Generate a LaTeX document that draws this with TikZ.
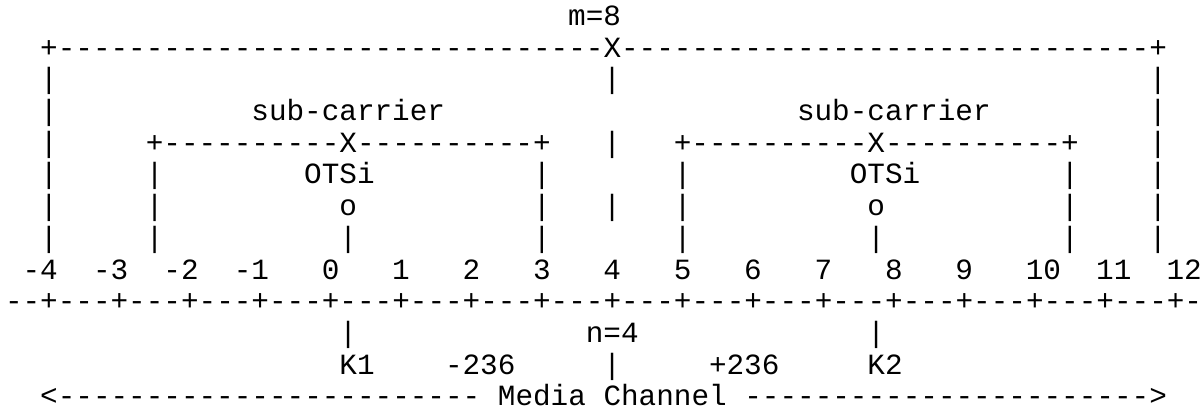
\documentclass[tikz,border=0pt]{standalone}
\usepackage{fontspec}
\setmonofont{Liberation Mono}
\usepackage{tikz}

\tikzset{
  chr/.style={font=\ttfamily\fontsize{14.67pt}{15.85pt}\selectfont,
              anchor=base west, inner sep=0pt, outer sep=0pt}
}

\begin{document}
\begin{tikzpicture}[x=8.8pt, y=-15.85pt]
    \useasboundingbox (-2.5pt,12.7pt) rectangle (598.5pt,-191.8pt);

    % Media channel frame (one column = one character)
    \node[chr] (mlab) at (32,0) {m=8};
    \node[chr] (mbar) at (2,1) {+-------------------------------X------------------------------+};
    \foreach \c in {2,34,65} \node[chr] (r2-\c) at (\c,2) {|};
    \foreach \c in {2,65}    \node[chr] (r3-\c) at (\c,3) {|};

    % Sub-carriers
    \node[chr] (sub1) at (14,3) {sub-carrier};
    \node[chr] (sub2) at (45,3) {sub-carrier};
    \node[chr] (sbar1) at (8,4)  {+----------X----------+};
    \node[chr] (sbar2) at (38,4) {+----------X----------+};
    \foreach \c in {2,34,65} \node[chr] (r4-\c) at (\c,4) {|};
    \foreach \c in {2,8,30,38,60,65} \node[chr] (r5-\c) at (\c,5) {|};
    \node[chr] (otsi1) at (17,5) {OTSi};
    \node[chr] (otsi2) at (48,5) {OTSi};
    \foreach \c in {2,8,30,34,38,60,65} \node[chr] (r6-\c) at (\c,6) {|};
    \node[chr] (o1) at (19,6) {o};
    \node[chr] (o2) at (49,6) {o};
    \foreach \c in {2,8,19,30,38,49,60,65} \node[chr] (r7-\c) at (\c,7) {|};

    % Frequency grid
    \foreach \c/\t in {1/-4,5/-3,9/-2,13/-1,18/0,22/1,26/2,30/3,34/4,38/5,
                       42/6,46/7,50/8,54/9,58/10,62/11,66/12}
        \node[chr] (n\c) at (\c,8) {\t};
    \node[chr] (grid) at (0,9) {--+---+---+---+---+---+---+---+---+---+---+---+---+---+---+---+---+-};

    % Central frequencies
    \foreach \c in {19,49} \node[chr] (r10-\c) at (\c,10) {|};
    \node[chr] (nlab) at (33,10) {n=4};
    \node[chr] (k1)   at (19,11) {K1};
    \node[chr] (lo)   at (25,11) {-236};
    \node[chr] (r11)  at (34,11) {|};
    \node[chr] (hi)   at (40,11) {+236};
    \node[chr] (k2)   at (49,11) {K2};

    \node[chr] (media) at (2,12) {<------------------------ Media Channel ----------------------->};

\end{tikzpicture}
\end{document}
